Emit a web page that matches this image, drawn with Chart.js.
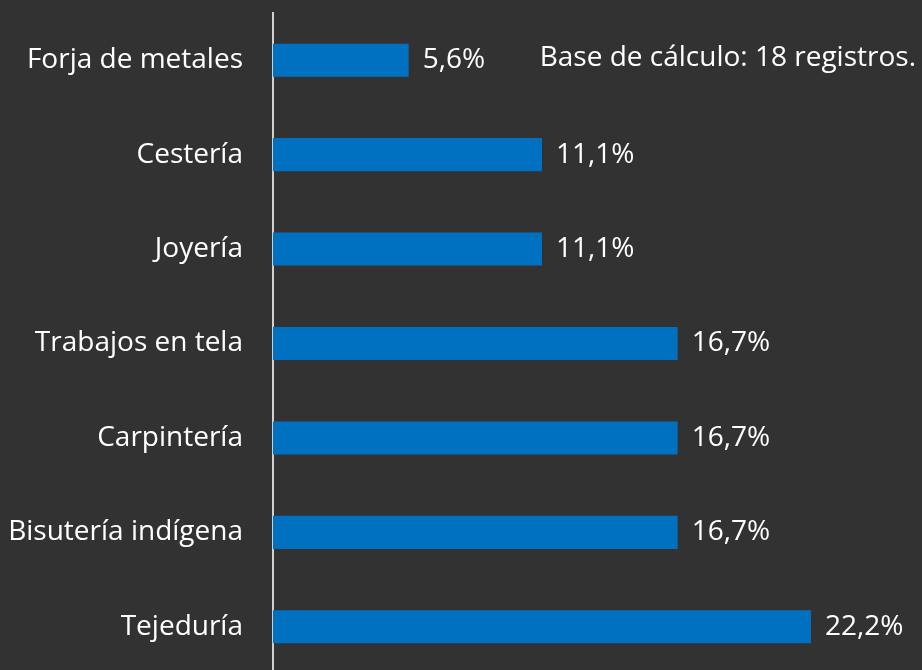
<!DOCTYPE html>
<html><head><meta charset="utf-8">
<script src="https://cdn.jsdelivr.net/npm/chart.js@4"></script>
<style>
html,body{margin:0;padding:0;background:#323232;overflow:hidden;}
#wrap{width:922px;height:680px;position:relative;}
</style></head>
<body><div id="wrap"><canvas id="c" width="922" height="680"></canvas></div>
<script>
const categories = ["Forja de metales","Cestería","Joyería","Trabajos en tela","Carpintería","Bisutería indígena","Tejeduría"];
const values = [5.6, 11.1, 11.1, 16.7, 16.7, 16.7, 22.2];
const valueLabels = ["5,6%","11,1%","11,1%","16,7%","16,7%","16,7%","22,2%"];
const noteText = "Base de cálculo: 18 registros.";
const FONT = "'Open Sans', 'Noto Sans', sans-serif";

const labelPlugin = {
  id: 'labels',
  afterDatasetsDraw(chart){
    const ctx = chart.ctx;
    const meta = chart.getDatasetMeta(0);
    ctx.save();
    ctx.fillStyle = '#ffffff';
    ctx.font = "28px " + FONT;
    ctx.textBaseline = 'middle';
    ctx.textAlign = 'left';
    meta.data.forEach((bar,i)=>{
      ctx.fillText(valueLabels[i], bar.x + 14, bar.y);
    });
    ctx.textAlign = 'right';
    ctx.fillText(noteText, 916, meta.data[0].y - 2);
    ctx.restore();
  }
};

new Chart(document.getElementById('c'), {
  type: 'bar',
  data: { labels: categories, datasets: [{ data: values, backgroundColor: '#0070C0', borderWidth: 0, categoryPercentage: 1, barPercentage: 0.35 }] },
  options: {
    indexAxis: 'y',
    responsive: false,
    animation: false,
    layout: { padding: { top: 13, bottom: 6, right: 19, left: 0 } },
    plugins: { legend: { display: false }, tooltip: { enabled: false } },
    scales: {
      x: { display: false, min: 0, max: 26 },
      y: {
        grid: { display: false, drawTicks: false },
        border: { display: true, color: '#d0d0d0', width: 2 },
        ticks: { color: '#ffffff', font: { family: FONT, size: 28 }, padding: 30 },
        afterFit(s){ s.width = 273; s.paddingTop = 0; s.paddingBottom = 0; }
      }
    }
  },
  plugins: [labelPlugin]
});
</script></body></html>
